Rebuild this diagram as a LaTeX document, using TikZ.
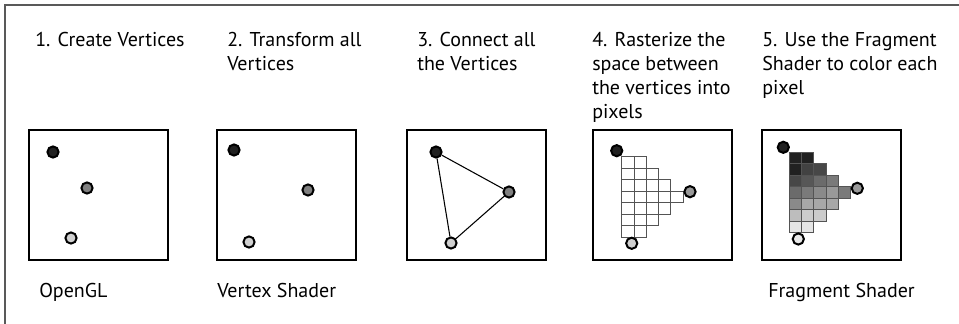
\documentclass[tikz,border=0pt]{standalone}
\usepackage{fontspec}
\setmainfont{PT Sans}
\definecolor{FrameClr}{rgb}{0.35,0.35,0.35}
\definecolor{GridClr}{rgb}{0.33,0.33,0.33}
\definecolor{DarkClr}{rgb}{0.13,0.13,0.13}
\definecolor{MidClr}{rgb}{0.5,0.5,0.5}
\definecolor{LightClr}{rgb}{0.82,0.82,0.82}
\tikzset{
  panel/.style={line width=1.5pt,draw=black},
  vtx/.style={circle,draw=black,line width=1.5pt,minimum size=8.4pt,inner sep=0pt},
  caption/.style={anchor=base west,inner sep=0pt,align=left,
    font=\fontsize{15}{17.8}\selectfont},
  edge/.style={line width=0.8pt},
  cell/.style={draw=GridClr,line width=0.6pt}
}

\begin{document}
\begin{tikzpicture}[x=0.75pt,y=-0.75pt]
\useasboundingbox (0,0) rectangle (959,324);
\draw[FrameClr,line width=0.9pt] (5,324) -- (5,5) -- (959,5);

% captions (placed at the baseline of their last line)
\node[caption] (t1) at (35,47) {1. Create Vertices};
\node[caption] (t2) at (227,70.7) {2. Transform all\\Vertices};
\node[caption] (t3) at (417,70.7) {3. Connect all\\the Vertices};
\node[caption] (t4) at (592,118.1) {4. Rasterize the\\space between\\the vertices into\\pixels};
\node[caption] (t5) at (762,94.4) {5. Use the Fragment\\Shader to color each\\pixel};

\node[caption] (s1) at (39,297) {OpenGL};
\node[caption] (s2) at (217,297) {Vertex Shader};
\node[caption] (s5) at (768,297) {Fragment Shader};

% panels
\foreach \x in {29,217,407,593,762}
  \draw[panel] (\x,130) rectangle ++(139,130);

% rasterized pixels
\begin{scope}[shift={(621.7,156.7)},x=9.2pt,y=-8.6pt]
\foreach \r/\n in {0/2,1/3,2/4,3/5,4/4,5/3,6/2}
  \foreach \c in {1,...,\n}
    \draw[cell] (\c-1,\r) rectangle ++(1,1);
\end{scope}

% shaded fragments
\begin{scope}[shift={(789.3,152.3)},x=9.2pt,y=-8.6pt]
\foreach \c/\r/\g in {0/0/87,1/0/87,0/1/87,1/1/74,2/1/72,
    0/2/72,1/2/66,2/2/58,3/2/52,
    0/3/58,1/3/52,2/3/46,3/3/40,4/3/52,
    0/4/46,1/4/34,2/4/34,3/4/34,
    0/5/26,1/5/20,2/5/20,
    0/6/10,1/6/10}
  \draw[cell,fill=black!\g] (\c,\r) rectangle ++(1,1);
\end{scope}

% vertices
\node[vtx,fill=DarkClr] (a1) at (53,152) {};
\node[vtx,fill=MidClr] (b1) at (87,188) {};
\node[vtx,fill=LightClr] (c1) at (71,238) {};

\node[vtx,fill=DarkClr] (a2) at (234,150) {};
\node[vtx,fill=MidClr] (b2) at (308,190) {};
\node[vtx,fill=LightClr] (c2) at (249,242) {};

\node[vtx,fill=DarkClr] (a3) at (436,152) {};
\node[vtx,fill=MidClr] (b3) at (509,192) {};
\node[vtx,fill=LightClr] (c3) at (451,243) {};
\draw[edge] (a3) -- (b3) -- (c3) -- (a3);

\node[vtx,fill=DarkClr] (a4) at (616.7,150.7) {};
\node[vtx,fill=MidClr!80!white] (b4) at (690,191.7) {};
\node[vtx,fill=LightClr] (c4) at (631.7,243.3) {};

\node[vtx,fill=DarkClr] (a5) at (783.3,147.3) {};
\node[vtx,fill=MidClr!80!white] (b5) at (857.3,188.3) {};
\node[vtx,fill=LightClr!50!white] (c5) at (798.3,239) {};

\end{tikzpicture}
\end{document}
